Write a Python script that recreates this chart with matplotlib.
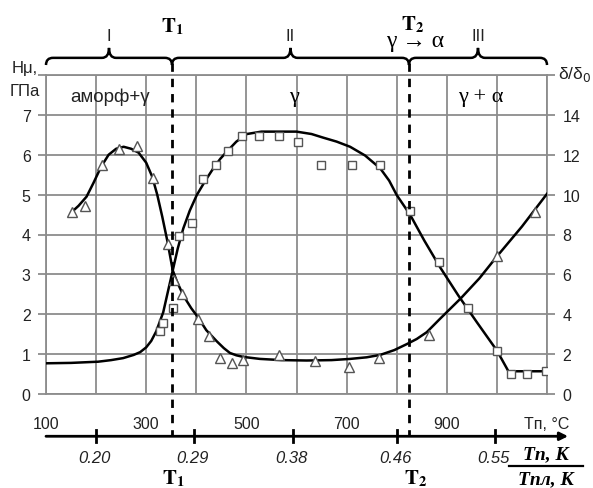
import matplotlib
matplotlib.use("Agg")
import matplotlib.pyplot as plt
from matplotlib.path import Path
from matplotlib.patches import PathPatch

plt.rcParams['font.family'] = ['Liberation Sans', 'DejaVu Sans']

# curve through the triangles (T, °C ; Hμ, GPa)
tri_line_t = [152, 165, 181, 195, 210, 225, 240, 255, 270, 285, 300, 312, 322, 332, 342, 353,
              362, 375, 390, 403, 420, 441, 455, 467, 480, 494, 527, 570, 620, 670, 707, 740,
              767, 795, 820, 840, 860, 886, 928, 965, 1000, 1050, 1100]
tri_line_h = [4.57, 4.72, 4.95, 5.3, 5.7, 6.0, 6.15, 6.2, 6.15, 6.05, 5.8, 5.45, 5.0, 4.45,
              3.85, 3.1, 2.8, 2.45, 2.15, 1.93, 1.6, 1.32, 1.15, 1.03, 0.97, 0.93, 0.88, 0.85,
              0.84, 0.85, 0.88, 0.92, 0.98, 1.1, 1.25, 1.38, 1.55, 1.88, 2.4, 2.9, 3.45, 4.2, 5.02]
tri_t = [152, 178, 211, 246, 281, 313, 344, 355, 371, 403, 426, 447, 471, 493, 566, 637,
         705, 765, 865, 1001, 1077]
tri_h = [4.57, 4.72, 5.74, 6.15, 6.21, 5.41, 3.77, 2.85, 2.52, 1.89, 1.45, 0.90, 0.77, 0.86,
         0.98, 0.82, 0.67, 0.90, 1.48, 3.46, 4.57]

# curve through the squares
sq_line_t = [100, 150, 204, 230, 254, 275, 288, 300, 310, 320, 334, 343, 353, 363, 374, 387,
             401, 418, 434, 448, 461, 480, 501, 530, 600, 630, 653, 680, 707, 737, 767, 785,
             800, 827, 855, 886, 923, 960, 1000, 1023, 1100]
sq_line_h = [0.77, 0.78, 0.81, 0.85, 0.9, 0.98, 1.05, 1.17, 1.33, 1.57, 2.05, 2.55, 3.1, 3.65,
             4.15, 4.6, 4.99, 5.35, 5.66, 5.9, 6.08, 6.33, 6.52, 6.58, 6.58, 6.52, 6.43, 6.33,
             6.2, 5.98, 5.66, 5.35, 4.99, 4.49, 3.85, 3.19, 2.47, 1.8, 1.09, 0.57, 0.57]
sq_t = [327, 334, 354, 365, 391, 414, 439, 464, 491, 525, 566, 602, 649, 710, 767, 827, 884,
        942, 1001, 1028, 1061, 1099]
sq_h = [1.57, 1.78, 2.16, 3.95, 4.30, 5.39, 5.74, 6.10, 6.48, 6.47, 6.46, 6.31, 5.74, 5.74,
        5.74, 4.60, 3.31, 2.16, 1.07, 0.50, 0.50, 0.57]

x_ticks = list(range(100, 1101, 100))
x_labels = ['100', '', '300', '', '500', '', '700', '', '900', '', 'Tп, °C']
h_ticks = list(range(0, 9))
h_labels = ['0', '1', '2', '3', '4', '5', '6', '7', '']
d_ticks = list(range(0, 17, 2))
d_labels = ['0', '2', '4', '6', '8', '10', '12', '14', '']

ratio_pos = [200, 395, 593, 800, 996]
ratio_labels = ['0.20', '0.29', '0.38', '0.46', '0.55']

T1, T2 = 351.5, 824.5
regions = [(100, T1, 'I'), (T1, T2, 'II'), (T2, 1100, 'III')]

grey = '#8c8c8c'

fig = plt.figure(figsize=(5.93, 4.89), dpi=100)
ax = fig.add_axes([46 / 593, 1 - 395 / 489, 501 / 593, 319 / 489])
ax.set_xlim(100, 1100)
ax.set_ylim(0, 8)

ax.set_xticks(x_ticks)
ax.set_xticklabels(x_labels)
ax.set_yticks(h_ticks)
ax.set_yticklabels(h_labels)
ax.grid(True, color=grey, lw=1.3)
ax.set_axisbelow(True)
for s in ax.spines.values():
    s.set_color(grey)
    s.set_linewidth(1.3)
ax.tick_params(axis='x', length=0, pad=16, labelsize=11.5, labelcolor='#222')
ax.tick_params(axis='y', length=6, width=1.3, color=grey, pad=5, labelsize=11.5, labelcolor='#222')

ax2 = ax.twinx()
ax2.set_ylim(0, 16)
ax2.set_yticks(d_ticks)
ax2.set_yticklabels(d_labels)
for s in ax2.spines.values():
    s.set_visible(False)
ax2.tick_params(axis='y', length=6, width=1.3, color=grey, pad=5, labelsize=11.5, labelcolor='#222')

# curves and markers
ax.plot(tri_line_t, tri_line_h, color='black', lw=1.8, zorder=3)
ax.plot(sq_line_t, sq_line_h, color='black', lw=1.8, zorder=3)
ax.plot(tri_t, tri_h, ls='none', marker='^', ms=7.5, mfc='white', mec='#555', mew=1, zorder=4)
ax.plot(sq_t, sq_h, ls='none', marker='s', ms=6, mfc='white', mec='#555', mew=1, zorder=4)

# dashed T1, T2
for t in (T1, T2):
    ax.plot([t, t], [8.3, -1.06], color='black', lw=2, ls=(0, (3, 2.5)), clip_on=False, zorder=5)


def brace(x0, x1, yb=8.43, ye=8.25, yt=8.68, dx=14):
    xm = (x0 + x1) / 2
    verts = [(x0, ye), (x0, yb), (x0 + dx, yb), (xm - dx, yb), (xm, yb), (xm, yt),
             (xm, yb), (xm + dx, yb), (x1 - dx, yb), (x1, yb), (x1, ye)]
    codes = [Path.MOVETO, Path.CURVE3, Path.CURVE3, Path.LINETO, Path.CURVE3, Path.CURVE3,
             Path.CURVE3, Path.CURVE3, Path.LINETO, Path.CURVE3, Path.CURVE3]
    ax.add_patch(PathPatch(Path(verts, codes), fill=False, lw=1.8, color='black', clip_on=False))


for x0, x1, name in regions:
    brace(x0, x1)
    ax.text((x0 + x1) / 2, 9.0, name, ha='center', va='center', fontsize=12, color='#222',
            clip_on=False)

tfont = dict(fontsize=15, math_fontfamily='stix', ha='center', va='center', clip_on=False)
ax.text(353, 9.24, r'$\mathbf{T}_\mathbf{1}$', **tfont)
ax.text(832, 9.3, r'$\mathbf{T}_\mathbf{2}$', **tfont)
ax.text(355, -2.09, r'$\mathbf{T}_\mathbf{1}$', **tfont)
ax.text(838, -2.09, r'$\mathbf{T}_\mathbf{2}$', **tfont)
ax.text(837, 8.86, 'γ → α', family=['Liberation Serif', 'DejaVu Serif'], fontsize=17,
        ha='center', va='center', clip_on=False)

# phase labels
ax.text(228, 7.47, 'аморф+γ', fontsize=13.5, ha='center', va='center', color='#222')
ax.text(595, 7.47, 'γ', family=['Liberation Serif'], fontsize=16, ha='center', va='center')
ax.text(968, 7.47, 'γ + α', family=['Liberation Serif'], fontsize=16, ha='center', va='center')

# axis titles
ax.text(58, 8.18, 'Hμ,', fontsize=12, ha='center', va='center', color='#222', clip_on=False)
ax.text(58, 7.6, 'ГПа', fontsize=12, ha='center', va='center', color='#222', clip_on=False)
ax.text(1156, 8.03, r'δ/δ$_0$', fontsize=12.5, ha='center', va='center', color='#222',
        math_fontfamily='dejavusans', clip_on=False)

# T / Tmelt axis
ax.annotate('', xy=(1142, -1.06), xytext=(100, -1.06), xycoords='data',
            arrowprops=dict(arrowstyle='-|>', lw=2, color='black', mutation_scale=12,
                            shrinkA=0, shrinkB=0), annotation_clip=False)
for p, lab in zip(ratio_pos, ratio_labels):
    ax.plot([p, p], [-0.91, -1.21], color='black', lw=2, clip_on=False)
    ax.text(p - 3, -1.58, lab, style='italic', fontsize=12, ha='center', va='center',
            color='#222', clip_on=False)

ffont = dict(family=['Liberation Serif'], weight='bold', style='italic', fontsize=14,
             ha='center', va='center', clip_on=False)
ax.text(1098, -1.49, 'Tп, К', **ffont)
ax.text(1098, -2.12, 'Tпл, К', **ffont)
ax.plot([1024, 1172], [-1.81, -1.81], color='black', lw=1.6, clip_on=False)

fig.savefig('out.png', dpi=100)
